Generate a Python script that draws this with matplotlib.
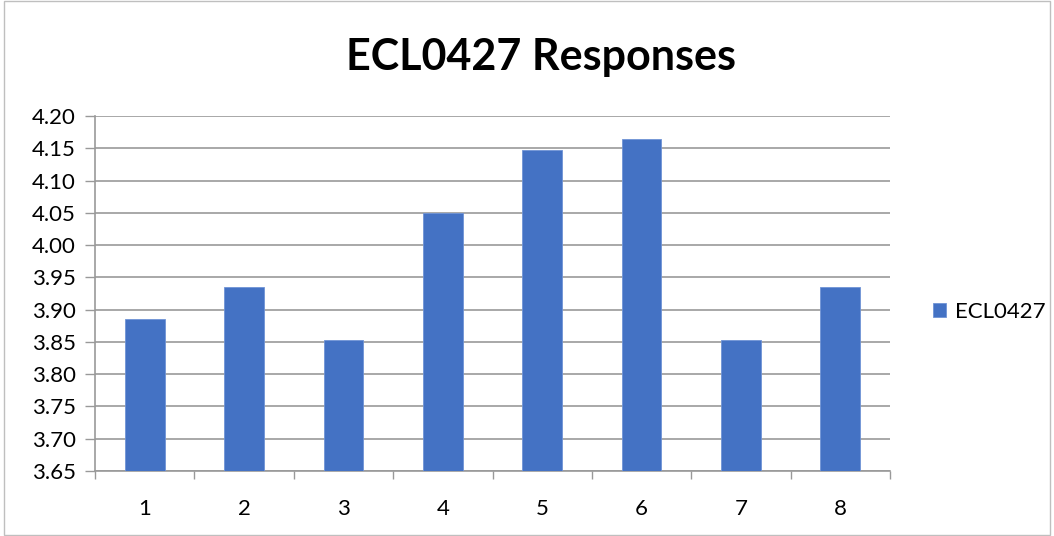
import matplotlib
matplotlib.use("Agg")
import matplotlib.pyplot as plt
from matplotlib.patches import Rectangle

categories = ["1", "2", "3", "4", "5", "6", "7", "8"]
values = [3.885, 3.935, 3.853, 4.049, 4.148, 4.164, 3.853, 3.935]
yticks = [3.65, 3.70, 3.75, 3.80, 3.85, 3.90, 3.95, 4.00, 4.05, 4.10, 4.15, 4.20]
series_name = "ECL0427"
title = "ECL0427 Responses"

plt.rcParams['font.family'] = ['Lato', 'DejaVu Sans']

W, H = 1054, 536
fig = plt.figure(figsize=(W / 100, H / 100), dpi=100)
ax = fig.add_axes([95 / W, 1 - 471 / H, (890 - 95) / W, (471 - 116) / H])

x = list(range(1, len(categories) + 1))
ax.bar(x, [v - yticks[0] for v in values], bottom=yticks[0], width=0.4,
       color="#4472C4", edgecolor="#6f93d6", linewidth=0.6, label=series_name, zorder=3)

ax.set_xlim(0.5, len(categories) + 0.5)
ax.set_ylim(yticks[0], yticks[-1])
ax.set_yticks(yticks)
ax.set_yticklabels([f"{t:.2f}" for t in yticks], fontsize=16)
ax.set_xticks(x)
ax.set_xticklabels(categories, fontsize=16)
ax.tick_params(axis='x', length=0, pad=20)
ax.tick_params(axis='y', length=7, width=1, color="#999999", pad=7, direction='out')
ax.set_xticks([i + 0.5 for i in range(0, len(categories) + 1)], minor=True)
ax.tick_params(axis='x', which='minor', length=6, width=1, color="#999999", direction='out')

ax.grid(axis='y', color="#999999", linewidth=1.2, zorder=0)
for s in ['top', 'right']:
    ax.spines[s].set_visible(False)
ax.spines['left'].set_color("#999999")
ax.spines['bottom'].set_color("#999999")
ax.spines['left'].set_linewidth(1.2)
ax.spines['bottom'].set_linewidth(1.2)

fig.text(541 / W, 1 - 57 / H, title, ha='center', va='center', fontsize=31, fontweight='bold')

leg = fig.legend(loc='center left', bbox_to_anchor=(913 / W, 1 - 312 / H), frameon=False,
                 fontsize=16, handlelength=0.6, handleheight=0.6, handletextpad=0.4)

fig.patches.append(Rectangle((0.004, 0.002), 0.992, 0.996, transform=fig.transFigure,
                             fill=False, edgecolor="#bfbfbf", linewidth=1))

fig.savefig("out.png", dpi=100)
